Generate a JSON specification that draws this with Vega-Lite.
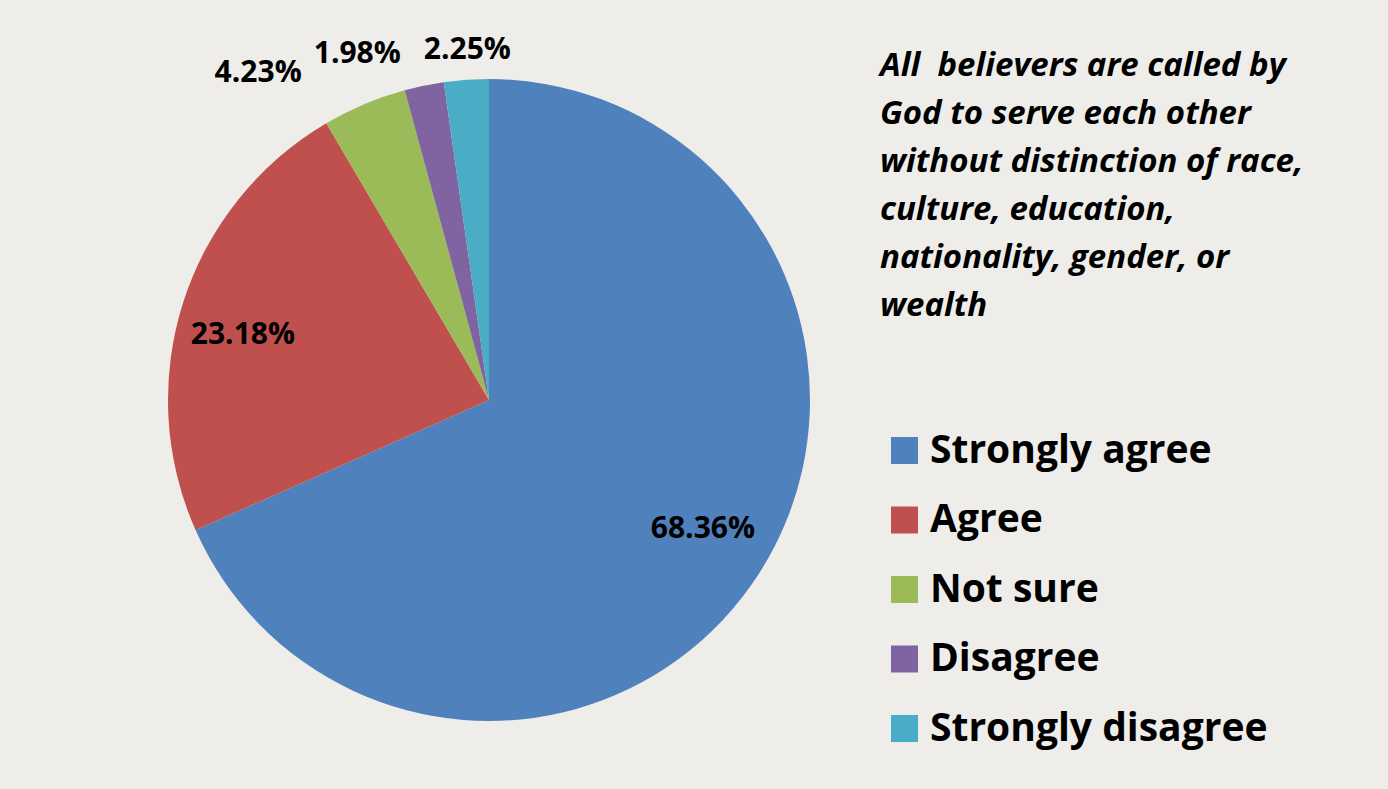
{
  "$schema": "https://vega.github.io/schema/vega-lite/v6.json",
  "autosize": {"type": "none"},
  "width": 978,
  "height": 778,
  "padding": {"left": 0, "top": 11, "right": 410, "bottom": 0},
  "background": "#eeede9",
  "config": {"view": {"stroke": null}, "font": "Open Sans"},
  "data": {
    "values": [
      {"idx": 1, "cat": "Strongly agree", "share": 0.6836},
      {"idx": 2, "cat": "Agree", "share": 0.2318},
      {"idx": 3, "cat": "Not sure", "share": 0.0423},
      {"idx": 4, "cat": "Disagree", "share": 0.0198},
      {"idx": 5, "cat": "Strongly disagree", "share": 0.0225}
    ]
  },
  "encoding": {
    "theta": {"field": "share", "type": "quantitative", "stack": true},
    "order": {"field": "idx", "type": "quantitative"}
  },
  "layer": [
    {
      "mark": {"type": "arc", "outerRadius": 321},
      "encoding": {
        "color": {
          "field": "cat",
          "type": "nominal",
          "scale": {
            "domain": ["Strongly agree", "Agree", "Not sure", "Disagree", "Strongly disagree"],
            "range": ["#4f81bd", "#c0504d", "#9bbb59", "#8064a2", "#4bacc6"]
          },
          "legend": {
            "orient": "none",
            "legendX": 880,
            "legendY": 39,
            "title": ["All\u00a0 believers are called by", "God to serve each other", "without distinction of race,", "culture, education,", "nationality, gender, or", "wealth"],
            "titleFont": "Open Sans",
            "titleFontSize": 33,
            "titleFontStyle": "italic",
            "titleFontWeight": "bold",
            "titleColor": "#000000",
            "titleLineHeight": 48,
            "titleLimit": 600,
            "titlePadding": 108,
            "symbolType": "square",
            "symbolSize": 729,
            "symbolOffset": 5,
            "symbolStrokeWidth": 0,
            "labelFont": "Open Sans",
            "labelFontSize": 39,
            "labelFontWeight": "bold",
            "labelColor": "#000000",
            "labelOffset": 6,
            "labelLimit": 600,
            "rowPadding": 29.5
          }
        }
      }
    },
    {
      "mark": {"type": "text", "radius": 248, "dx": 6, "dy": -6, "font": "Open Sans", "fontSize": 30, "fontWeight": "bold", "color": "#000000"},
      "encoding": {
        "detail": {"field": "cat"},
        "text": {"condition": {"test": "datum.idx == 1", "field": "share", "type": "quantitative", "format": ".2%"}, "value": ""}
      }
    },
    {
      "mark": {"type": "text", "radius": 248, "dx": -10, "dy": 11, "font": "Open Sans", "fontSize": 30, "fontWeight": "bold", "color": "#000000"},
      "encoding": {
        "detail": {"field": "cat"},
        "text": {"condition": {"test": "datum.idx == 2", "field": "share", "type": "quantitative", "format": ".2%"}, "value": ""}
      }
    },
    {
      "mark": {"type": "text", "radius": 350, "dx": -95, "dy": -4, "font": "Open Sans", "fontSize": 30, "fontWeight": "bold", "color": "#000000"},
      "encoding": {
        "detail": {"field": "cat"},
        "text": {"condition": {"test": "datum.idx == 3", "field": "share", "type": "quantitative", "format": ".2%"}, "value": ""}
      }
    },
    {
      "mark": {"type": "text", "radius": 350, "dx": -61, "dy": -3, "font": "Open Sans", "fontSize": 30, "fontWeight": "bold", "color": "#000000"},
      "encoding": {
        "detail": {"field": "cat"},
        "text": {"condition": {"test": "datum.idx == 4", "field": "share", "type": "quantitative", "format": ".2%"}, "value": ""}
      }
    },
    {
      "mark": {"type": "text", "radius": 350, "dx": 3, "dy": -1, "font": "Open Sans", "fontSize": 30, "fontWeight": "bold", "color": "#000000"},
      "encoding": {
        "detail": {"field": "cat"},
        "text": {"condition": {"test": "datum.idx == 5", "field": "share", "type": "quantitative", "format": ".2%"}, "value": ""}
      }
    }
  ]
}
